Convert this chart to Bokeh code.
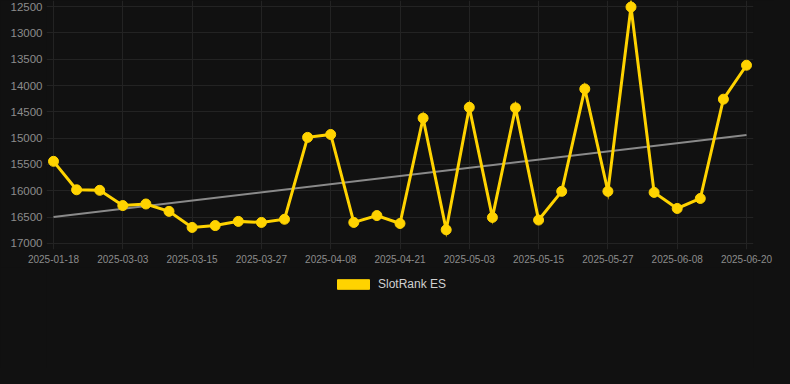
import numpy as np
from bokeh.plotting import figure
from bokeh.layouts import column
from bokeh.models import (Range1d, FixedTicker, ColumnDataSource, Legend, LegendItem,
                          GlobalInlineStyleSheet)
from bokeh.embed import file_html
from bokeh.resources import INLINE

# ---- data ----
dates = ["2025-01-18", "2025-02-02", "2025-02-17", "2025-03-03", "2025-03-07", "2025-03-11",
         "2025-03-15", "2025-03-19", "2025-03-23", "2025-03-27", "2025-03-31", "2025-04-04",
         "2025-04-08", "2025-04-12", "2025-04-17", "2025-04-21", "2025-04-25", "2025-04-29",
         "2025-05-03", "2025-05-07", "2025-05-11", "2025-05-15", "2025-05-19", "2025-05-23",
         "2025-05-27", "2025-05-31", "2025-06-04", "2025-06-08", "2025-06-12", "2025-06-16",
         "2025-06-20"]
rank = [15440, 15980, 15990, 16280, 16250, 16390, 16695, 16660, 16580, 16600, 16540, 14985,
        14930, 16600, 16470, 16620, 14620, 16740, 14415, 16505, 14425, 16555, 16010, 14065,
        16010, 12510, 16030, 16335, 16145, 14260, 13615]
series_name = "SlotRank ES"
y_ticks = [12500, 13000, 13500, 14000, 14500, 15000, 15500, 16000, 16500, 17000]
label_every = 3

BG = "#111111"
GOLD = "#FFD300"

x = list(range(len(dates)))
src = ColumnDataSource(data=dict(x=x, y=rank, date=dates))

# trend (linear regression of the series)
coef = np.polyfit(x, rank, 1)
tx = [x[0], x[-1]]
ty = [float(np.polyval(coef, v)) for v in tx]

p = figure(frame_width=707, frame_height=249, output_backend="svg", toolbar_location=None,
           x_range=Range1d(-0.303, len(dates) - 1 + 0.303),
           y_range=Range1d(17114, 12386),
           min_border_left=46, min_border_right=21, min_border_top=0, min_border_bottom=18,
           background_fill_color=BG, border_fill_color=BG, outline_line_color=None)
p.stylesheets = [GlobalInlineStyleSheet(css="html, body { background-color: #111111; }")]

p.line(tx, ty, line_color="#8a8a8a", line_width=2)
p.line("x", "y", source=src, line_color=GOLD, line_width=3, line_join="miter")
p.scatter("x", "y", source=src, size=10, fill_color=GOLD, line_color=GOLD)

ticks = list(range(0, len(dates), label_every))
p.xaxis.ticker = FixedTicker(ticks=ticks)
p.xaxis.major_label_overrides = {i: dates[i] for i in ticks}
p.yaxis.ticker = FixedTicker(ticks=y_ticks)

for ax in (p.xaxis[0], p.yaxis[0]):
    ax.axis_line_color = None
    ax.major_tick_line_color = None
    ax.minor_tick_line_color = None
    ax.major_tick_out = 0
    ax.major_tick_in = 0
    ax.minor_tick_out = 0
    ax.minor_tick_in = 0
    ax.major_label_text_color = "#8c8c8c"
    ax.major_label_text_font = "Liberation Sans"
p.xaxis.major_label_text_font_size = "10px"
p.yaxis.major_label_text_font_size = "11.5px"
p.xaxis.major_label_standoff = 5
p.yaxis.major_label_standoff = 4

p.xgrid.ticker = FixedTicker(ticks=ticks)
p.xgrid.grid_line_color = "#232323"
p.ygrid.grid_line_color = "#232323"

# legend strip below the chart
p2 = figure(width=774, height=101, output_backend="svg", toolbar_location=None,
            x_range=Range1d(0, 1), y_range=Range1d(0, 1),
            x_axis_type=None, y_axis_type=None, min_border=0,
            background_fill_color=BG, border_fill_color=BG, outline_line_color=None)
p2.grid.visible = False
nan = float("nan")
legend_src = ColumnDataSource(data=dict(l=[nan], r=[nan], t=[nan], b=[nan]))
r_leg = p2.quad(left="l", right="r", top="t", bottom="b", source=legend_src,
                fill_color=GOLD, line_color=GOLD)
legend = Legend(items=[LegendItem(label=series_name, renderers=[r_leg])],
                orientation="horizontal", location=(283, 73),
                background_fill_alpha=0, border_line_alpha=0,
                label_text_color="#d0d0d0", label_text_font="Liberation Sans",
                label_text_font_size="12px", glyph_width=40, glyph_height=12,
                label_standoff=5, padding=4, margin=0)
p2.add_layout(legend, "center")

layout = column(p, p2, spacing=0)
open("out.html", "w").write(file_html(layout, INLINE))
